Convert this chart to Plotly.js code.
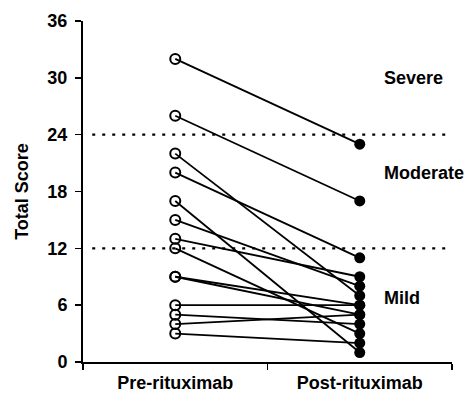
<!DOCTYPE html>
<html>
<head>
<meta charset="utf-8">
<script src="https://cdn.plot.ly/plotly-3.0.1.min.js"></script>
<style>html,body{margin:0;padding:0;background:#fff}#chart{width:476px;height:404px}</style>
</head>
<body>
<div id="chart"></div>
<script>
// Data
const groups = ["Pre-rituximab", "Post-rituximab"];
const preScores  = [32, 26, 22, 20, 17, 15, 13, 12, 9, 9, 6, 5, 4, 3];
const postScores = [23, 17, 7, 11, 1, 8, 9, 3, 6, 5, 6, 4, 5, 2];
const yTicks = [0, 6, 12, 18, 24, 30, 36];
const thresholds = [24, 12];
const severityLabels = ["Severe", "Moderate", "Mild"];
const severityY = [30, 20, 6.8];

const FONT = "Arial, 'Liberation Sans', sans-serif";
const xPre = 1, xPost = 3;

const traces = [];
preScores.forEach((p, i) => {
  traces.push({
    x: [xPre, xPost], y: [p, postScores[i]],
    mode: 'lines', type: 'scatter',
    line: {color: '#000', width: 1.8},
    hoverinfo: 'skip', showlegend: false, cliponaxis: false
  });
});
traces.push({
  x: preScores.map(() => xPre), y: preScores, mode: 'markers', type: 'scatter',
  marker: {symbol: 'circle-open', size: 10, color: '#000', line: {width: 2, color: '#000'}},
  showlegend: false, cliponaxis: false
});
traces.push({
  x: postScores.map(() => xPost), y: postScores, mode: 'markers', type: 'scatter',
  marker: {symbol: 'circle', size: 11, color: '#000'},
  showlegend: false, cliponaxis: false
});
// label axis trace
traces.push({x: [xPre, xPost], y: [null, null], xaxis: 'x2', type: 'scatter', mode: 'markers', showlegend: false, hoverinfo: 'skip'});

const shapes = thresholds.map(t => ({
  type: 'line', xref: 'paper', yref: 'y', x0: 0.025, x1: 0.995, y0: t, y1: t,
  line: {color: '#000', width: 2.2, dash: '3px,7px'}
}));

const annotations = severityLabels.map((s, i) => ({
  text: s, x: 3.24, y: severityY[i], xref: 'x', yref: 'y',
  xanchor: 'left', yanchor: 'middle', showarrow: false,
  font: {family: FONT, size: 18, color: '#000', weight: 'bold'}
}));

const layout = {
  width: 476, height: 404,
  margin: {l: 83, r: 24, t: 21, b: 42},
  paper_bgcolor: '#fff', plot_bgcolor: '#fff',
  showlegend: false,
  xaxis: {
    range: [0, 4], tickvals: [0, 2, 4], ticktext: ['', '', ''],
    ticks: 'outside', ticklen: 6, tickwidth: 1.5, tickcolor: '#000',
    showline: true, linewidth: 2, linecolor: '#000',
    showgrid: false, zeroline: false, fixedrange: true
  },
  xaxis2: {
    overlaying: 'x', anchor: 'y', side: 'bottom', range: [0, 4],
    tickvals: [xPre, xPost], ticktext: groups, ticks: '',
    showline: false, showgrid: false, zeroline: false,
    ticklabelstandoff: 8,
    tickfont: {family: FONT, size: 18, color: '#000', weight: 'bold'}
  },
  yaxis: {
    range: [0, 36], tickvals: yTicks, ticks: 'outside', ticklen: 6, tickwidth: 1.5, tickcolor: '#000',
    showline: true, linewidth: 2, linecolor: '#000',
    showgrid: false, zeroline: false,
    ticklabelstandoff: 4,
    tickfont: {family: FONT, size: 18, color: '#000', weight: 'bold'},
    title: {text: 'Total Score', font: {family: FONT, size: 18, color: '#000', weight: 'bold'}, standoff: 14}
  },
  shapes: shapes,
  annotations: annotations
};

Plotly.newPlot('chart', traces, layout, {staticPlot: true, displayModeBar: false});
</script>
</body>
</html>
